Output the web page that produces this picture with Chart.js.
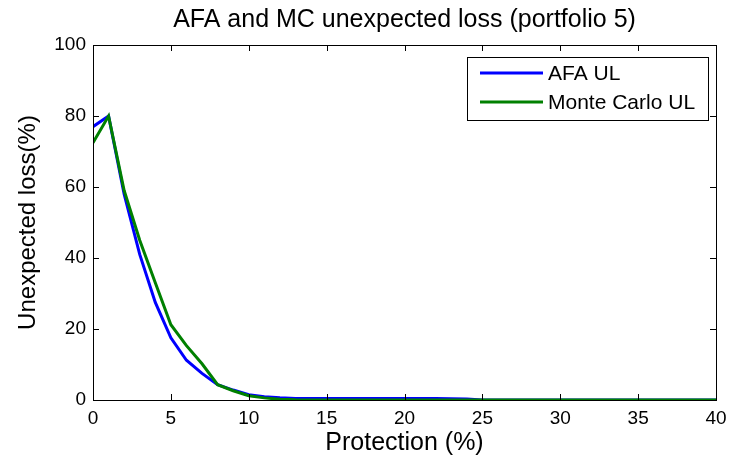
<!DOCTYPE html>
<html><head><meta charset="utf-8">
<script src="https://cdn.jsdelivr.net/npm/chart.js@4/dist/chart.umd.min.js"></script>
<style>html,body{margin:0;padding:0;background:#fff}#wrap{width:735px;height:464px}</style>
</head><body><div id="wrap"><canvas id="c" width="735" height="464"></canvas></div>
<script>
const protection = [0,1,2,3,4,5,6,7,8,9,10,11,12,13,14,15,16,17,18,19,20,21,22,23,24,25,26,27,28,29,30,31,32,33,34,35,36,37,38,39,40];
const afaUL = [77,80,58,41,27.5,17.5,11.2,7.5,4.3,2.8,1.5,0.9,0.6,0.45,0.4,0.4,0.4,0.4,0.4,0.4,0.4,0.4,0.4,0.35,0.25,0,0,0,0,0,0,0,0,0,0,0,0,0,0,0,0];
const mcUL = [72.5,80,59,45,33,21.2,15.3,10.2,4.3,2.6,1.2,0.6,0.2,0.05,0,0,0,0,0,0,0,0,0,0,0,0,0,0,0,0,0,0,0,0,0,0,0,0,0,0,0];
const xTicks = [0,5,10,15,20,25,30,35,40];
const yTicks = [0,20,40,60,80,100];
const seriesNames = ['AFA UL','Monte Carlo UL'];
const seriesColors = ['#0000ff','#008000'];
const chartTitle = 'AFA and MC unexpected loss (portfolio 5)';

const FONT = "'Liberation Sans', Arial, sans-serif";

const boxTicks = {
  id:'boxTicks',
  afterDatasetsDraw(chart){
    const {ctx, chartArea:a, scales:{x,y}} = chart;
    ctx.save();
    ctx.strokeStyle='#000'; ctx.lineWidth=1;
    ctx.strokeRect(Math.round(a.left)+0.5, Math.round(a.top)+0.5, Math.round(a.right-a.left), Math.round(a.bottom-a.top));
    const L=6;
    ctx.beginPath();
    xTicks.forEach(v=>{const px=Math.round(x.getPixelForValue(v))+0.5;
      ctx.moveTo(px,a.bottom);ctx.lineTo(px,a.bottom-L);
      ctx.moveTo(px,a.top);ctx.lineTo(px,a.top+L);});
    yTicks.forEach(v=>{const py=Math.round(y.getPixelForValue(v))+0.5;
      ctx.moveTo(a.left,py);ctx.lineTo(a.left+L,py);
      ctx.moveTo(a.right,py);ctx.lineTo(a.right-L,py);});
    ctx.stroke();
    // title, centred over the plot area
    ctx.fillStyle='#000'; ctx.font='25px '+FONT; ctx.textAlign='center'; ctx.textBaseline='alphabetic';
    ctx.fillText(chartTitle,(a.left+a.right)/2,27);
    // legend
    const lx=467, ly=57, lw=241, lh=63;
    ctx.fillStyle='#fff'; ctx.fillRect(lx,ly,lw,lh);
    ctx.strokeRect(lx+0.5,ly+0.5,lw,lh);
    ctx.font='21px '+FONT; ctx.textBaseline='middle'; ctx.textAlign='left';
    seriesNames.forEach((n,i)=>{
      const yy=ly+16+i*29;
      ctx.strokeStyle=seriesColors[i]; ctx.lineWidth=3;
      ctx.beginPath(); ctx.moveTo(480,yy); ctx.lineTo(543,yy); ctx.stroke();
      ctx.fillStyle='#000'; ctx.fillText(n,548,yy+1);
    });
    ctx.restore();
  }
};

new Chart(document.getElementById('c'),{
  type:'line',
  data:{datasets:[
    {label:seriesNames[0],data:protection.map((p,i)=>({x:p,y:afaUL[i]})),borderColor:seriesColors[0],borderWidth:3,pointRadius:0,tension:0,fill:false,order:2},
    {label:seriesNames[1],data:protection.map((p,i)=>({x:p,y:mcUL[i]})),borderColor:seriesColors[1],borderWidth:3,pointRadius:0,tension:0,fill:false,order:1}
  ]},
  options:{
    responsive:false,animation:false,
    layout:{padding:{top:45,right:19,left:0,bottom:0}},
    plugins:{legend:{display:false},tooltip:{enabled:false},title:{display:false}},
    scales:{
      x:{type:'linear',min:0,max:40,
        afterBuildTicks(s){s.ticks=xTicks.map(v=>({value:v}));},
        afterFit(s){s.height=64;},
        grid:{display:false,drawTicks:false},border:{display:false},
        ticks:{color:'#000',font:{family:FONT,size:19},padding:7,maxRotation:0},
        title:{display:true,text:'Protection (%)',color:'#000',font:{family:FONT,size:25},padding:{top:0,bottom:6}}
      },
      y:{type:'linear',min:0,max:100,
        afterBuildTicks(s){s.ticks=yTicks.map(v=>({value:v}));},
        afterFit(s){s.width=93;},
        grid:{display:false,drawTicks:false},border:{display:false},
        ticks:{color:'#000',font:{family:FONT,size:19},padding:7},
        title:{display:true,text:'Unexpected loss(%)',color:'#000',font:{family:FONT,size:24},padding:{top:14,bottom:0}}
      }
    }
  },
  plugins:[boxTicks]
});
</script></body></html>
